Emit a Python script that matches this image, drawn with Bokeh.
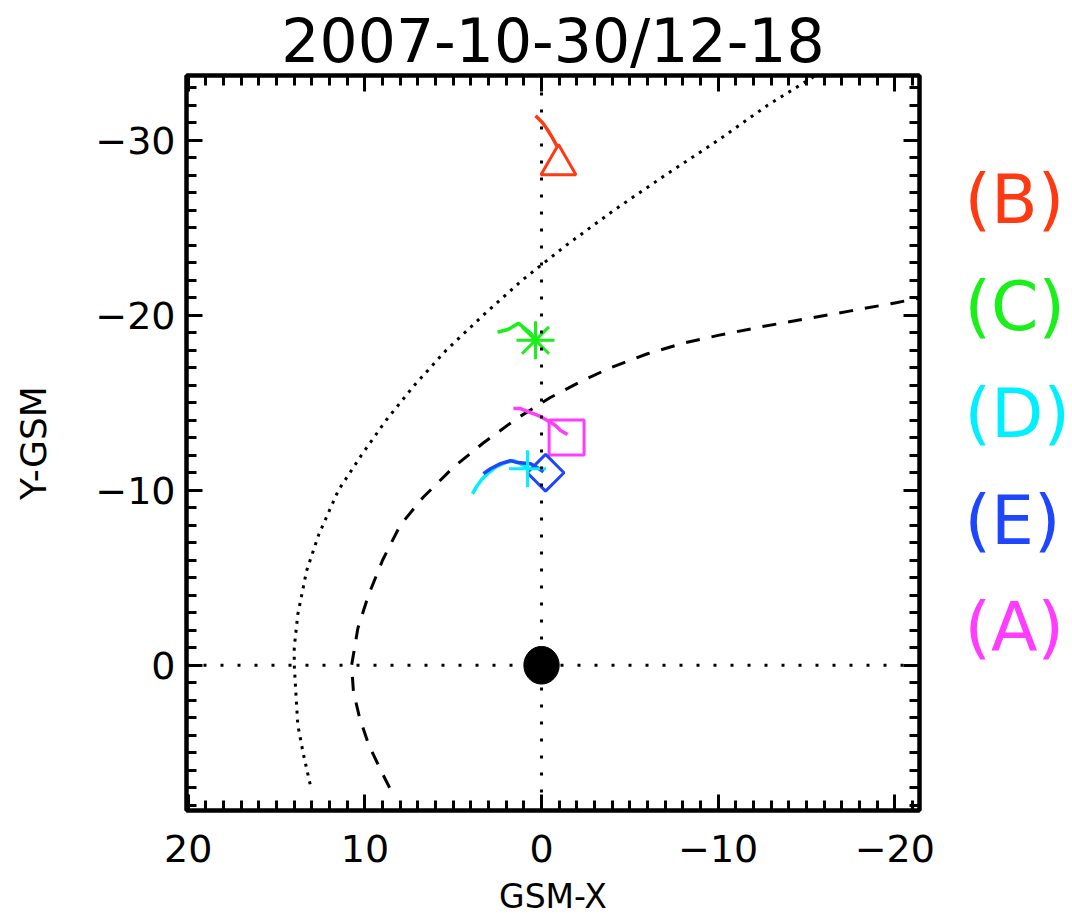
from bokeh.plotting import figure
from bokeh.layouts import row
from bokeh.models import Range1d, LinearAxis, FixedTicker, Span
from bokeh.embed import file_html
from bokeh.resources import INLINE
from bokeh.core.properties import value

# ---------------- data ----------------
title_text = "2007-10-30/12-18"
x_label = "GSM-X"
y_label = "Y-GSM"
x_ticks = [20, 10, 0, -10, -20]
y_ticks = [-30, -20, -10, 0]
x_minor = list(range(-21, 21))
y_minor = list(range(-33, 9))

# bow shock (dotted)
bs_x = [13.1, 13.5, 13.8, 13.9, 14.0, 14.0, 13.8, 13.3, 12.6, 11.5, 10.2, 8.8, 7.2, 5.4, 3.3, 1.1,
        -1.4, -4.1, -7.0, -10.0, -12.8, -16.0]
bs_y = [6.8, 5.0, 3.4, 1.7, 0.0, -1.0, -2.9, -5.4, -7.5, -10.0, -12.0, -14.0, -16.0, -18.0, -20.0, -22.0,
        -24.0, -26.0, -28.0, -30.0, -32.0, -34.0]

# magnetopause (dashed)
mp_x = [8.6, 9.1, 9.8, 10.3, 10.65, 10.75, 10.4, 9.8, 9.0, 8.0, 6.7, 5.0, 3.3, 1.4, -0.5, -2.4, -3.9,
        -6.0, -8.0, -10.0, -12.5, -15.0, -17.5, -20.0, -21.5]
mp_y = [7.0, 6.0, 4.5, 3.0, 1.5, 0.0, -2.1, -4.0, -6.0, -8.0, -9.6, -11.3, -12.7, -14.1, -15.3, -16.3, -17.0,
        -17.8, -18.4, -18.85, -19.35, -19.8, -20.25, -20.7, -21.0]

# Earth
earth_x = [0.0]
earth_y = [0.0]

# probe tracks
trk_a_x = [1.59, 1.19, 0.62, 0.17, -0.34, -0.79, -1.08, -1.47]
trk_a_y = [-14.67, -14.67, -14.44, -14.27, -13.99, -13.70, -13.41, -13.18]
trk_b_x = [0.34, -0.06, -0.34, -0.62, -0.91]
trk_b_y = [-31.4, -31.0, -30.6, -30.14, -29.6]
trk_c_x = [2.49, 1.87, 1.30, 1.02, 0.62, 0.34]
trk_c_y = [-19.03, -19.2, -19.54, -19.31, -18.97, -18.57]
trk_d_x = [3.91, 3.68, 3.40, 3.0, 2.55, 2.04, 1.59, 1.19, 0.79]
trk_d_y = [-9.80, -10.2, -10.6, -11.0, -11.35, -11.58, -11.69, -11.52, -11.29]
trk_e_x = [3.29, 2.89, 2.32, 1.76, 1.36, 0.62, 0.23, -0.11]
trk_e_y = [-10.95, -11.23, -11.52, -11.69, -11.58, -11.52, -11.29, -11.06]

# end positions (markers)
end_x = {"A": -1.42, "B": -0.96, "C": 0.34, "D": 0.79, "E": -0.23}
end_y = {"A": -13.01, "B": -28.6, "C": -18.57, "D": -11.23, "E": -11.0}

legend_order = ["B", "C", "D", "E", "A"]
probe_colors = {"A": "#ff3cff", "B": "#ff3a12", "C": "#19f019", "D": "#00f0ff", "E": "#1e46ff"}

# ---------------- layout geometry (pixels) ----------------
FONT = "DejaVu Sans"
B_LEFT, B_TOP, FRAME_W, FRAME_H = 186, 75, 733, 735
MAIN_W, TOTAL_H, LEG_W = 958, 920, 114
B_RIGHT = MAIN_W - B_LEFT - FRAME_W
B_BOTTOM = TOTAL_H - B_TOP - FRAME_H

p = figure(width=MAIN_W, height=TOTAL_H,
           x_range=Range1d(20.1, -21.4), y_range=Range1d(8.3, -33.7),
           x_axis_location=None, y_axis_location=None,
           min_border_left=B_LEFT, min_border_right=B_RIGHT,
           min_border_top=B_TOP, min_border_bottom=B_BOTTOM,
           output_backend="svg", toolbar_location=None)
p.xgrid.grid_line_color = None
p.ygrid.grid_line_color = None
p.outline_line_color = "black"
p.outline_line_width = 4
p.background_fill_color = "white"
p.border_fill_color = "white"

p.title.text = title_text
p.title.text_font = FONT
p.title.text_font_size = "60px"
p.title.text_font_style = "normal"
p.title.text_color = "black"
p.title.align = "center"
p.title.standoff = 0


def mk_axis(ticks, minor, show_labels):
    ax = LinearAxis(ticker=FixedTicker(ticks=ticks, minor_ticks=minor))
    ax.major_tick_in = 16
    ax.major_tick_out = 0
    ax.minor_tick_in = 10
    ax.minor_tick_out = 0
    ax.axis_line_width = 4
    ax.major_tick_line_width = 3
    ax.minor_tick_line_width = 3
    ax.major_label_text_font = FONT
    if show_labels:
        ax.major_label_text_font_size = "38px"
        ax.major_label_text_color = "black"
    else:
        ax.major_label_text_font_size = "0px"
        ax.major_label_text_color = None
        ax.major_label_standoff = 0
    return ax


xb = mk_axis(x_ticks, x_minor, True)
xb.major_label_standoff = 24
xb.axis_label = x_label
xb.axis_label_text_font = FONT
xb.axis_label_text_font_size = "33px"
xb.axis_label_text_font_style = "normal"
xb.axis_label_text_color = "black"
xb.axis_label_standoff = 12
p.add_layout(xb, "below")

xt = mk_axis(x_ticks, x_minor, False)
xt.major_label_standoff = 4
p.add_layout(xt, "above")

yl = mk_axis(y_ticks, y_minor, True)
yl.major_label_standoff = 11
yl.axis_label = y_label
yl.axis_label_text_font = FONT
yl.axis_label_text_font_size = "36px"
yl.axis_label_text_font_style = "normal"
yl.axis_label_text_color = "black"
yl.axis_label_standoff = 38
p.add_layout(yl, "left")

yr = mk_axis(y_ticks, y_minor, False)
p.add_layout(yr, "right")

# reference lines through Earth
p.add_layout(Span(location=0, dimension="height", line_color="black", line_width=3, line_dash="3 14"))
p.add_layout(Span(location=0, dimension="width", line_color="black", line_width=3, line_dash="3 14"))

# boundaries
p.line(bs_x, bs_y, line_color="black", line_width=3, line_dash="3 6")
p.line(mp_x, mp_y, line_color="black", line_width=3, line_dash="14 12")

# Earth
p.ellipse(x=earth_x, y=earth_y, width=2.0, height=2.15, fill_color="black", line_color="black")

# tracks
tracks = {"A": (trk_a_x, trk_a_y), "B": (trk_b_x, trk_b_y), "C": (trk_c_x, trk_c_y),
          "D": (trk_d_x, trk_d_y), "E": (trk_e_x, trk_e_y)}
for k in ["A", "B", "C", "D", "E"]:
    tx, ty = tracks[k]
    p.line(tx, ty, line_color=probe_colors[k], line_width=3.5)

# markers
p.scatter([end_x["A"]], [end_y["A"]], marker="square", size=35, fill_color=None,
          line_color=probe_colors["A"], line_width=3)
p.scatter([end_x["B"]], [end_y["B"]], marker="triangle", size=35, fill_color=None,
          line_color=probe_colors["B"], line_width=3)
p.scatter([end_x["C"]], [end_y["C"]], marker="asterisk", size=38, fill_color=None,
          line_color=probe_colors["C"], line_width=3)
p.scatter([end_x["E"]], [end_y["E"]], marker="square", size=26, angle=0.785398, fill_color=None,
          line_color=probe_colors["E"], line_width=3)
p.scatter([end_x["D"]], [end_y["D"]], marker="cross", size=37, fill_color=None,
          line_color=probe_colors["D"], line_width=3)

# ---------------- probe legend panel (pixel coordinates, y downward) ----------------
leg = figure(width=LEG_W, height=TOTAL_H, title=None,
             x_range=Range1d(0, LEG_W), y_range=Range1d(B_TOP + FRAME_H, B_TOP),
             x_axis_location=None, y_axis_location=None,
             min_border_left=0, min_border_right=0,
             min_border_top=B_TOP, min_border_bottom=B_BOTTOM,
             output_backend="svg", toolbar_location=None)
leg.outline_line_color = None
leg.xgrid.grid_line_color = None
leg.ygrid.grid_line_color = None
leg.background_fill_color = "white"
leg.border_fill_color = "white"

leg_text = ["(" + k + ")" for k in legend_order]
leg_color = [probe_colors[k] for k in legend_order]
leg_y = [199 + 107 * i for i in range(len(legend_order))]
leg_x = [6] * len(legend_order)
leg.text(x=leg_x, y=leg_y, text=leg_text, text_color=leg_color,
         text_font=value(FONT), text_font_size=value("68px"),
         text_align="left", text_baseline="alphabetic")

layout = row(p, leg, spacing=0)
open("out.html", "w").write(file_html(layout, INLINE))
